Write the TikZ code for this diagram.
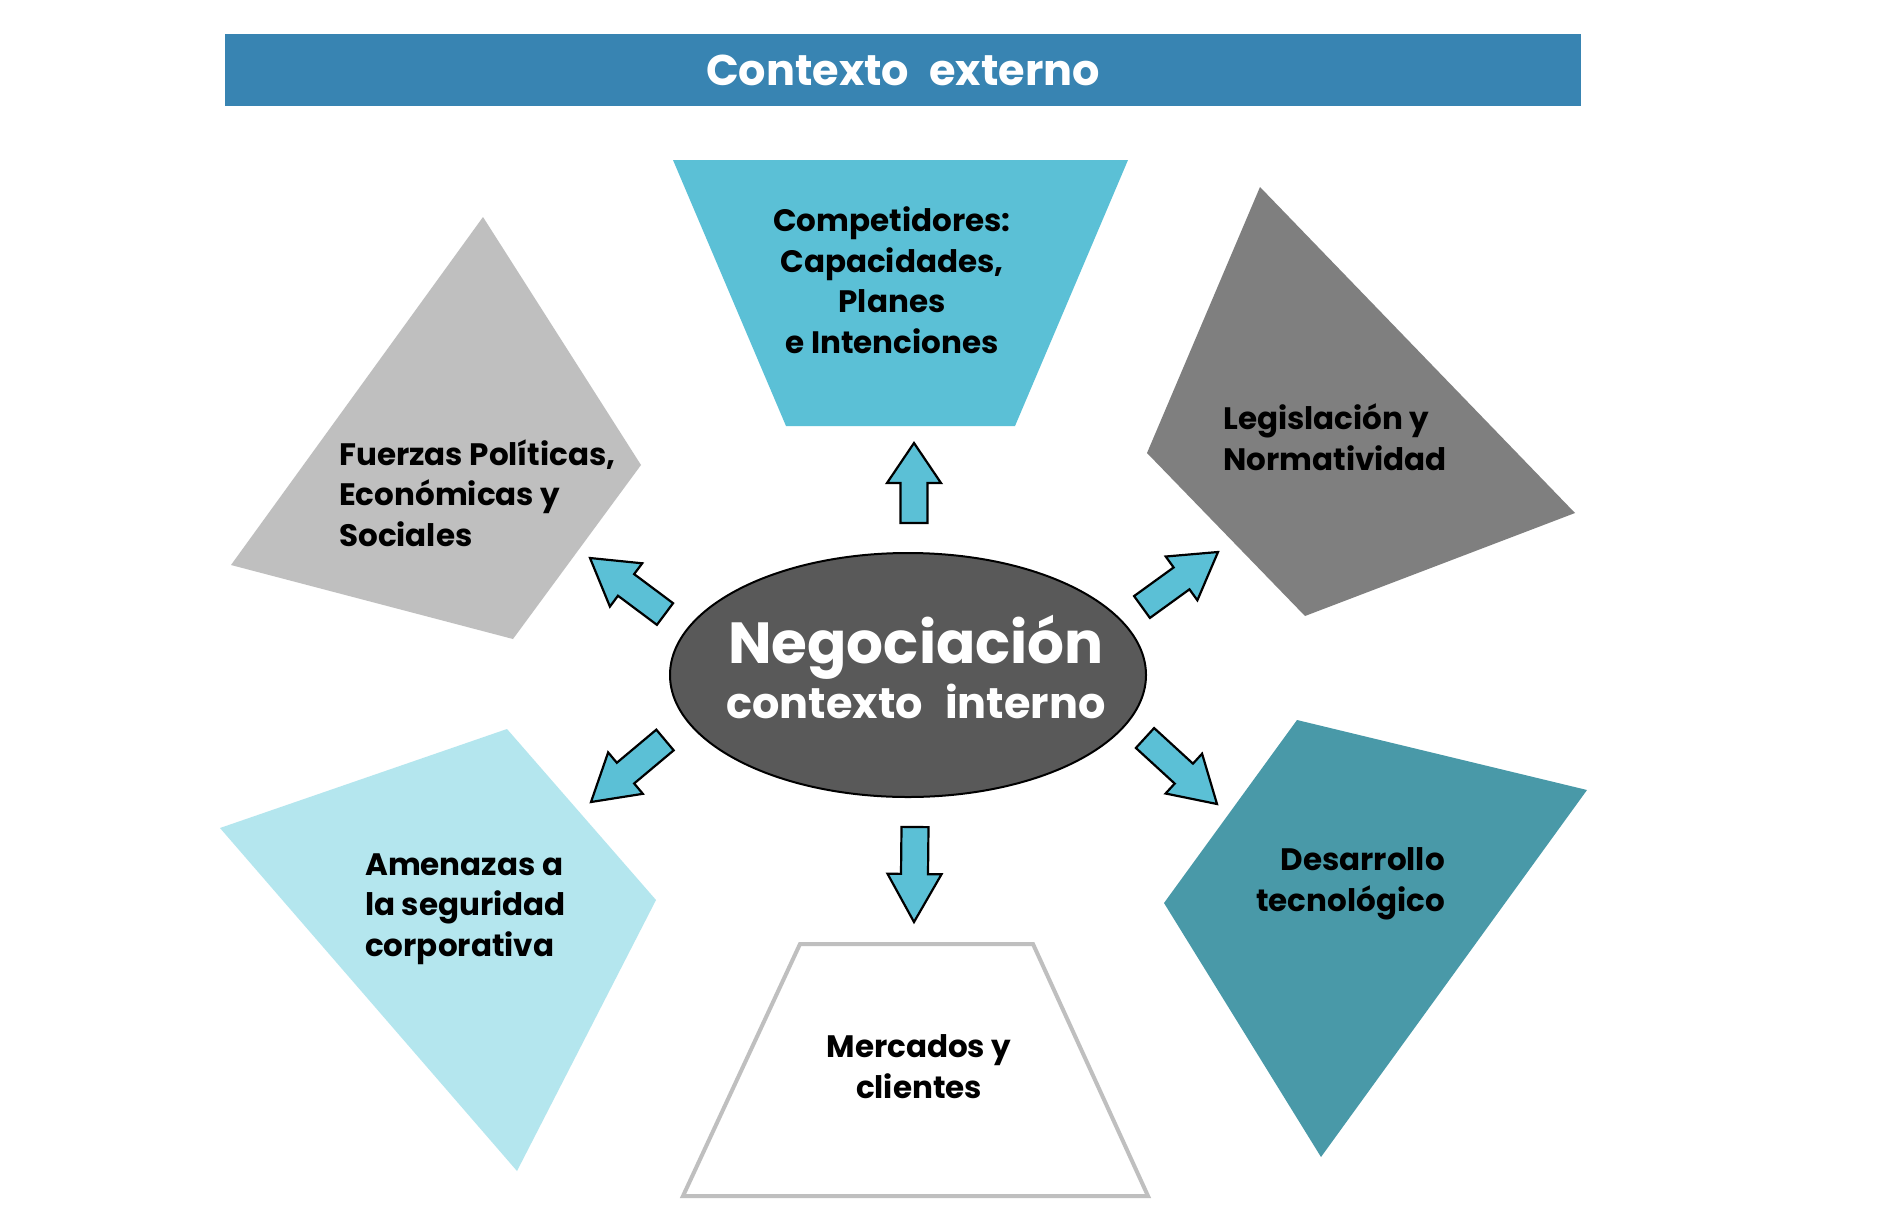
\documentclass[tikz,border=0pt]{standalone}
\usepackage{fontspec}
\setmainfont{Poppins}
\usetikzlibrary{calc}
\definecolor{bannerblue}{RGB}{56,132,178}
\definecolor{compcyan}{RGB}{91,192,214}
\definecolor{lightgray}{RGB}{191,191,191}
\definecolor{midgray}{RGB}{127,127,127}
\definecolor{palecyan}{RGB}{180,230,238}
\definecolor{tealdark}{RGB}{73,153,168}
\definecolor{ellgray}{RGB}{89,89,89}
\tikzset{
  lbl/.style={font=\fontsize{31}{40.5}\selectfont\bfseries, inner sep=0pt, text=black},
  blockarrow/.style={draw=black, line width=2.2pt, fill=compcyan, line join=miter},
}
\newcommand\blockarrow[3]{% tail, tip, head length
  \coordinate (#1h) at ($(#2)!#3pt!(#1)$);
  \draw[blockarrow] ($(#1)!13.5pt!90:(#2)$) -- ($(#1h)!13.5pt!90:(#2)$) -- ($(#1h)!27pt!90:(#2)$)
     -- (#2) -- ($(#1h)!27pt!-90:(#2)$) -- ($(#1h)!13.5pt!-90:(#2)$) -- ($(#1)!13.5pt!-90:(#2)$) -- cycle;
}
\begin{document}
\begin{tikzpicture}[x=1pt,y=-1pt]
\useasboundingbox (0,0) rectangle (1890,1216);
\fill[white] (0,0) rectangle (1890,1216);
% banner
\fill[bannerblue] (225,34) rectangle (1581,106);
\node[anchor=base, inner sep=0pt, text=white, font=\fontsize{43}{50}\selectfont\bfseries] (ext) at (903,85) {Contexto\hspace{20pt}externo};
% shapes
\fill[compcyan] (673,160) coordinate (c1) -- (1128,160) coordinate (c2) -- (1015,426) coordinate (c3) -- (786,426) coordinate (c4) -- cycle;
\fill[lightgray] (483,217) coordinate (f1) -- (641,465) coordinate (f2) -- (513,639) coordinate (f3) -- (231,565) coordinate (f4) -- cycle;
\fill[midgray] (1260,187) coordinate (g1) -- (1575,513) coordinate (g2) -- (1305,616) coordinate (g3) -- (1147,453) coordinate (g4) -- cycle;
\fill[palecyan] (507,729) coordinate (a1) -- (656,900) coordinate (a2) -- (517,1171) coordinate (a3) -- (220,828) coordinate (a4) -- cycle;
\fill[tealdark] (1297,720) coordinate (d1) -- (1587,790) coordinate (d2) -- (1321,1157) coordinate (d3) -- (1164,903) coordinate (d4) -- cycle;
\draw[lightgray, line width=4pt, fill=white] (800,944) coordinate (m1) -- (1033,944) coordinate (m2) -- (1148,1196) coordinate (m3) -- (683,1196) coordinate (m4) -- cycle;
% ellipse
\draw[black, line width=2pt, fill=ellgray] (908,675) ellipse [x radius=238, y radius=122];
\coordinate (neg) at (908,675);
\node[anchor=base, inner sep=0pt, text=white, font=\fontsize{58}{60}\selectfont\bfseries] (negt) at (916,663) {Negociación};
\node[anchor=base, inner sep=0pt, text=white, font=\fontsize{43}{50}\selectfont\bfseries] (intt) at (916,718) {contexto\hspace{22pt}interno};
% arrows
\coordinate (tu) at (914,523); \coordinate (pu) at (914,443);
\coordinate (td) at (915,827); \coordinate (pd) at (914,922);
\coordinate (tul) at (665,614); \coordinate (pul) at (590,558);
\coordinate (tll) at (665,740); \coordinate (pll) at (591,802);
\coordinate (tur) at (1142,607); \coordinate (pur) at (1218,552);
\coordinate (tlr) at (1145,738); \coordinate (plr) at (1217,804);
\blockarrow{tu}{pu}{40}
\blockarrow{td}{pd}{48}
\blockarrow{tul}{pul}{45}
\blockarrow{tll}{pll}{45}
\blockarrow{tur}{pur}{45}
\blockarrow{tlr}{plr}{45}
% labels (anchor = baseline of last line)
\node[lbl, anchor=base, align=center] (comp) at (892,353) {Competidores:\\Capacidades,\\Planes\\e Intenciones};
\node[lbl, anchor=base west, align=left] (fuer) at (339,546) {Fuerzas Políticas,\\Económicas y\\Sociales};
\node[lbl, anchor=base west, align=left] (leg) at (1223,470) {Legislación y\\Normatividad};
\node[lbl, anchor=base west, align=left] (amen) at (365,956) {Amenazas a\\la seguridad\\corporativa};
\node[lbl, anchor=base east, align=right] (des) at (1445,911) {Desarrollo\\tecnológico};
\node[lbl, anchor=base, align=center] (merc) at (919,1098) {Mercados y\\clientes};
\end{tikzpicture}
\end{document}
